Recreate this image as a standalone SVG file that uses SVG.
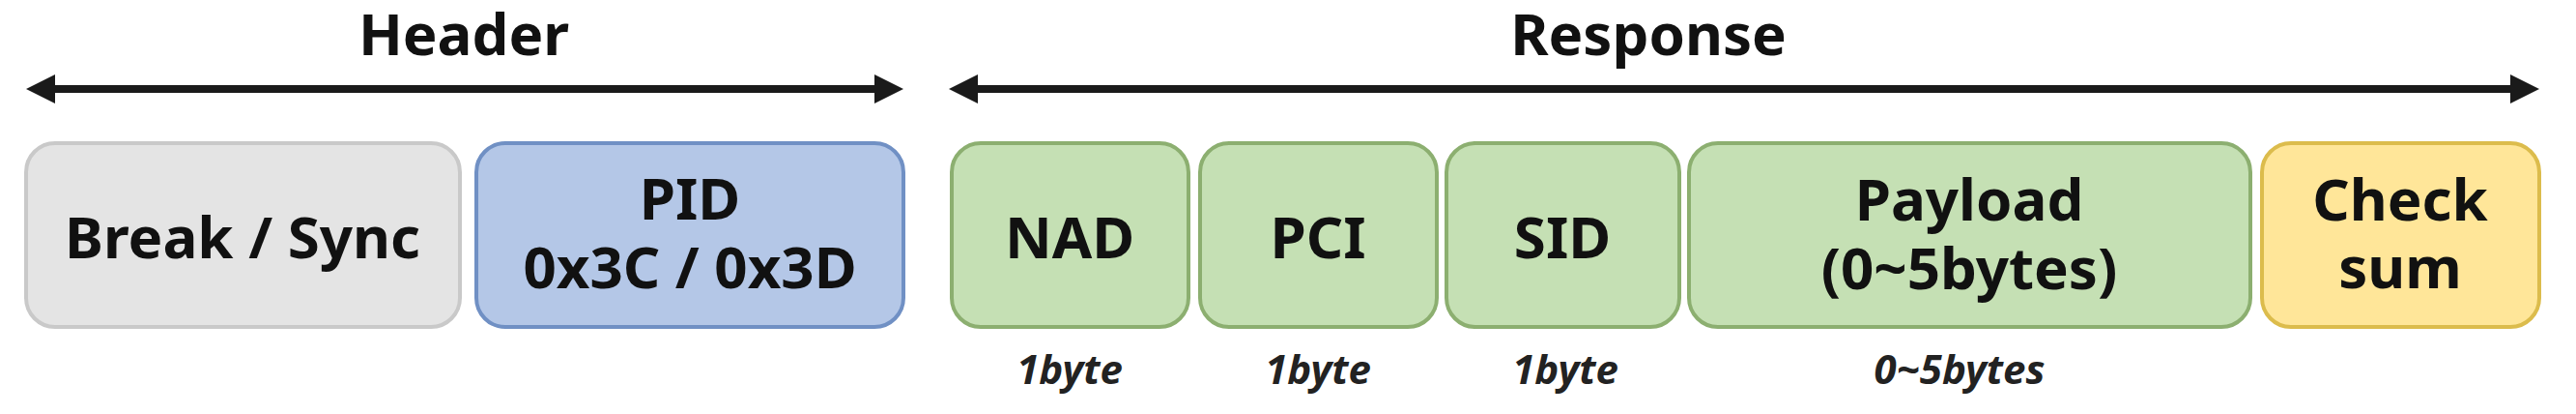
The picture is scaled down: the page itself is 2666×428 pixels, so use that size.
<svg xmlns="http://www.w3.org/2000/svg" width="2666" height="428" viewBox="0 0 2666 428">
  <style>
    .t { font-family: "Noto Sans", "Open Sans", "Liberation Sans", sans-serif; font-weight: 700; font-size: 60px; fill: #111; text-anchor: middle; }
    .lbl { font-family: "Noto Sans", "Open Sans", "Liberation Sans", sans-serif; font-weight: 700; font-style: italic; font-size: 42px; fill: #222; text-anchor: middle; }
    .box { stroke-width: 4; }
    .gray { fill: #e4e4e4; stroke: #c9c9c9; }
    .blue { fill: #b4c7e7; stroke: #7090c4; }
    .green { fill: #c5e0b4; stroke: #8caf70; }
    .yellow { fill: #ffe699; stroke: #dcbc4c; }
    .arr { stroke: #1a1a1a; stroke-width: 8; fill: none; marker-start: url(#ah); marker-end: url(#ah); }
  </style>
  <defs>
    <marker id="ah" viewBox="0 0 30 30" markerWidth="30" markerHeight="30" markerUnits="userSpaceOnUse" refX="10" refY="15" orient="auto-start-reverse">
      <path d="M0,0 L30,15 L0,30 z" fill="#1a1a1a"/>
    </marker>
  </defs>
  <rect width="2666" height="428" fill="#ffffff"/>

  <g id="connectors">
    <line class="arr" x1="47" y1="92" x2="915" y2="92"/>
    <line class="arr" x1="1002" y1="92" x2="2608" y2="92"/>
  </g>

  <g id="title-header"><text class="t" x="480" y="57">Header</text></g>
  <g id="title-response"><text class="t" x="1706" y="57">Response</text></g>

  <g id="break-sync">
    <rect class="box gray" x="27" y="148" width="449" height="190" rx="30"/>
    <text class="t" x="251" y="267">Break / Sync</text>
  </g>
  <g id="pid">
    <rect class="box blue" x="493" y="148" width="442" height="190" rx="30"/>
    <text class="t" x="714" y="227">PID</text>
    <text class="t" x="714" y="298">0x3C / 0x3D</text>
  </g>
  <g id="nad">
    <rect class="box green" x="985" y="148" width="245" height="190" rx="30"/>
    <text class="t" x="1107" y="267">NAD</text>
    <text class="lbl" x="1107" y="397">1byte</text>
  </g>
  <g id="pci">
    <rect class="box green" x="1242" y="148" width="245" height="190" rx="30"/>
    <text class="t" x="1364" y="267">PCI</text>
    <text class="lbl" x="1364" y="397">1byte</text>
  </g>
  <g id="sid">
    <rect class="box green" x="1497" y="148" width="241" height="190" rx="30"/>
    <text class="t" x="1617" y="267">SID</text>
    <text class="lbl" x="1620" y="397">1byte</text>
  </g>
  <g id="payload">
    <rect class="box green" x="1748" y="148" width="581" height="190" rx="30"/>
    <text class="t" x="2038" y="228">Payload</text>
    <text class="t" x="2038" y="299">(0~5bytes)</text>
    <text class="lbl" x="2028" y="397">0~5bytes</text>
  </g>
  <g id="checksum">
    <rect class="box yellow" x="2341" y="148" width="287" height="190" rx="30"/>
    <text class="t" x="2484" y="228">Check</text>
    <text class="t" x="2484" y="298">sum</text>
  </g>
</svg>
